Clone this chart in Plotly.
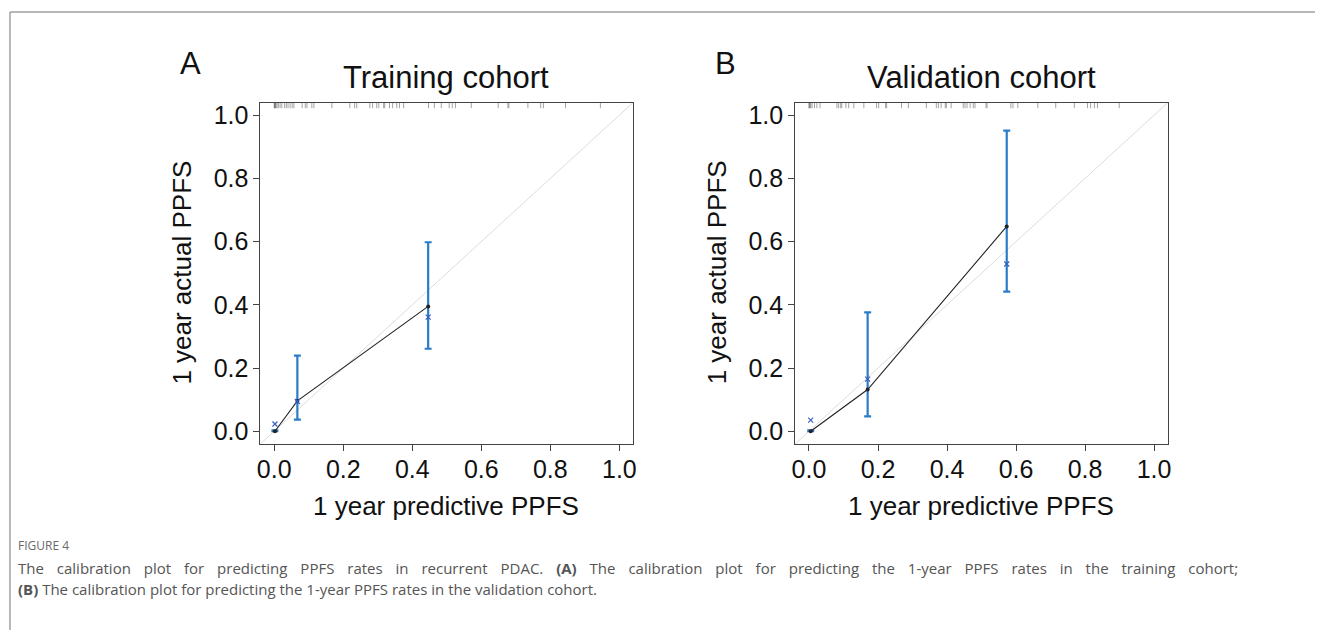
import plotly.graph_objects as go

W, H = 1319, 631

# ---------------- data ----------------
tick_vals = [0.0, 0.2, 0.4, 0.6, 0.8, 1.0]
tick_text = ["0.0", "0.2", "0.4", "0.6", "0.8", "1.0"]

# Training cohort
a_pred = [0.002, 0.067, 0.446]
a_obs = [0.000, 0.096, 0.395]
a_lo = [0.000, 0.037, 0.261]
a_hi = [0.003, 0.239, 0.598]
a_corr = [0.023, 0.094, 0.361]
a_rug = [0.000, 0.001, 0.002, 0.003, 0.005, 0.008, 0.012, 0.017, 0.022, 0.030,
         0.035, 0.040, 0.046, 0.052, 0.057, 0.081, 0.090, 0.095, 0.109, 0.115,
         0.167, 0.219, 0.233, 0.239, 0.277, 0.285, 0.297, 0.303, 0.317, 0.320,
         0.334, 0.343, 0.355, 0.363, 0.375, 0.447, 0.464, 0.484, 0.507, 0.516,
         0.525, 0.571, 0.649, 0.677, 0.680, 0.735, 0.772, 0.780, 0.844, 0.945]

# Validation cohort
b_pred = [0.005, 0.170, 0.573]
b_obs = [0.000, 0.132, 0.648]
b_lo = [0.000, 0.047, 0.442]
b_hi = [0.003, 0.376, 0.951]
b_corr = [0.035, 0.165, 0.529]
b_rug = [0.000, 0.001, 0.003, 0.005, 0.009, 0.016, 0.023, 0.032, 0.081, 0.086,
         0.092, 0.095, 0.107, 0.115, 0.130, 0.159, 0.196, 0.202, 0.222, 0.225,
         0.268, 0.288, 0.340, 0.369, 0.375, 0.383, 0.395, 0.398, 0.412, 0.447,
         0.452, 0.458, 0.467, 0.476, 0.481, 0.513, 0.516, 0.585, 0.591, 0.605,
         0.663, 0.715, 0.769, 0.807, 0.816, 0.827, 0.836, 0.899]

caption_label = "FIGURE 4"
caption_words_1 = ["The", "calibration", "plot", "for", "predicting", "PPFS", "rates", "in",
                   "recurrent", "PDAC.", "<b>(A)</b>", "The", "calibration", "plot", "for",
                   "predicting", "the", "1-year", "PPFS", "rates", "in", "the", "training",
                   "cohort;"]
caption_line_2 = ("<b>(B)</b> The calibration plot for predicting the 1-year PPFS rates "
                  "in the validation cohort.")

ideal = [-0.1, 1.1]
axis_range = [-0.04, 1.04]
rug_top, rug_bottom = 1.04, 1.022

BLUE = "#2a7cc7"
XBLUE = "#3b5fc0"
FONT = "Liberation Sans, Arial, sans-serif"

fig = go.Figure()


def add_panel(xa, ya, pred, obs, lo, hi, corr, rug):
    xr = "x" if xa == 1 else f"x{xa}"
    yr = "y" if ya == 1 else f"y{ya}"
    fig.add_trace(go.Scatter(x=ideal, y=ideal, mode="lines",
                             line=dict(color="#dcdcdc", width=1),
                             xaxis=xr, yaxis=yr, hoverinfo="skip"))
    rx, ry = [], []
    for v in rug:
        rx += [v, v, None]
        ry += [rug_top, rug_bottom, None]
    fig.add_trace(go.Scatter(x=rx, y=ry, mode="lines",
                             line=dict(color="rgba(90,90,90,0.55)", width=1),
                             xaxis=xr, yaxis=yr, hoverinfo="skip"))
    up = [h - o for h, o in zip(hi, obs)]
    dn = [o - l for o, l in zip(obs, lo)]
    fig.add_trace(go.Scatter(x=pred, y=obs, mode="markers",
                             marker=dict(size=1, color="rgba(0,0,0,0)"),
                             error_y=dict(type="data", symmetric=False,
                                          array=up, arrayminus=dn,
                                          color=BLUE, thickness=2.2, width=3.5),
                             xaxis=xr, yaxis=yr, hoverinfo="skip"))
    fig.add_trace(go.Scatter(x=pred, y=obs, mode="lines+markers",
                             line=dict(color="#222222", width=1.1),
                             marker=dict(size=4, color="#222222"),
                             xaxis=xr, yaxis=yr))
    fig.add_trace(go.Scatter(x=pred, y=corr, mode="markers",
                             marker=dict(symbol="x-thin", size=5,
                                         line=dict(color=XBLUE, width=1.2)),
                             xaxis=xr, yaxis=yr))


add_panel(1, 1, a_pred, a_obs, a_lo, a_hi, a_corr, a_rug)
add_panel(2, 2, b_pred, b_obs, b_lo, b_hi, b_corr, b_rug)


def px(x):
    return x / W


def py(y):
    return 1 - y / H


axis_common = dict(range=axis_range, tickvals=tick_vals, ticktext=tick_text,
                   showgrid=False, zeroline=False, showline=True, mirror=True,
                   linecolor="#444444", linewidth=1, ticks="outside",
                   ticklen=6, tickcolor="#444444", tickwidth=1,
                   tickfont=dict(family=FONT, size=25, color="#111111"))

fig.update_layout(
    width=W, height=H, margin=dict(l=0, r=0, t=0, b=0),
    paper_bgcolor="white", plot_bgcolor="white", showlegend=False,
    xaxis=dict(domain=[px(258), px(633)], anchor="y", ticklabelstandoff=-3, **axis_common),
    yaxis=dict(domain=[py(444), py(101)], anchor="x", **axis_common),
    xaxis2=dict(domain=[px(796), px(1171)], anchor="y2", ticklabelstandoff=-3, **axis_common),
    yaxis2=dict(domain=[py(444), py(101)], anchor="x2", **axis_common),
)

ann = []


def text(x, y, s, size, angle=0, xanchor="center", color="#111111", family=FONT):
    ann.append(dict(x=px(x), y=py(y), xref="paper", yref="paper", text=s,
                    showarrow=False, xanchor=xanchor, yanchor="middle",
                    textangle=angle, font=dict(family=family, size=size, color=color)))


text(188, 62, "A", 31)
text(445, 76, "Training cohort", 31)
text(445, 506, "1 year predictive PPFS", 26)
text(179, 272, "1 year actual PPFS", 26, angle=-90)

text(726, 62, "B", 31)
text(983, 76, "Validation cohort", 31)
text(983, 506, "1 year predictive PPFS", 26)
text(717, 272, "1 year actual PPFS", 26, angle=-90)

# justified first caption line: widen each inter-word gap evenly
GAP = " \u2002\u200a"

CAP = "Open Sans, sans-serif"
text(12, 546, caption_label, 12, xanchor="left", color="#6a6a6a", family=CAP)
text(12, 569, GAP.join(caption_words_1), 15, xanchor="left", color="#555555", family=CAP)
text(12, 590, caption_line_2, 15, xanchor="left", color="#555555", family=CAP)

fig.update_layout(annotations=ann)

fig.add_shape(type="line", xref="paper", yref="paper", x0=px(6), x1=1, y0=py(10), y1=py(10),
              line=dict(color="#a0a0a0", width=1.5))
fig.add_shape(type="line", xref="paper", yref="paper", x0=px(6), x1=px(6), y0=py(10), y1=0,
              line=dict(color="#a0a0a0", width=1.5))

fig.write_html("out.html", config={"displayModeBar": False},
               post_script="document.body.style.margin='0';document.body.style.overflow='hidden';")
